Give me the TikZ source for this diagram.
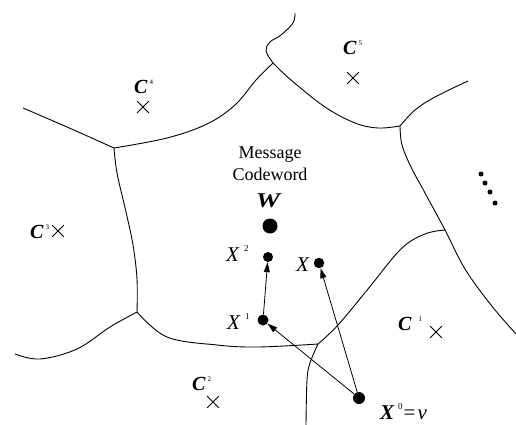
\documentclass[tikz,border=0pt]{standalone}
\usepackage{fontspec}
\setmainfont{Liberation Serif}
\usetikzlibrary{arrows.meta,shapes.misc}
\newcommand\clab[2]{\bfseries\itshape C\hspace{#2}\raisebox{9pt}{\fontsize{7}{7}\selectfont\upshape\mdseries #1}}
\newcommand\xlab[1]{\itshape X\hspace{5pt}\raisebox{10pt}{\fontsize{9}{9}\selectfont\upshape #1}}
\begin{document}
\begin{tikzpicture}[x=1pt,y=-1pt,
  boundary/.style={line width=0.9pt},
  ptdot/.style={circle,fill=black,inner sep=0pt,minimum size=#1},
  xmark/.style={cross out,draw,line width=0.8pt,minimum size=11pt,inner sep=0pt},
  arr/.style={-{Triangle[length=10pt,width=6pt]},line width=0.8pt},
  clabel/.style={anchor=base west,inner sep=0pt,font=\fontsize{20}{20}\selectfont},
  xlabel/.style={anchor=base west,inner sep=0pt,font=\fontsize{21}{21}\selectfont},
  msgtext/.style={anchor=base,inner sep=0pt,font=\fontsize{18}{18}\selectfont}]
\useasboundingbox (0,0) rectangle (516,425);
% junctions
\coordinate (J1) at (114,148);
\coordinate (J2) at (273,63);
\coordinate (J3) at (400,126);
\coordinate (J4) at (445,230);
\coordinate (J5) at (318,344);
\coordinate (J6) at (137,312);
% boundaries
\draw[boundary] plot[smooth,tension=0.6] coordinates {(23,108) (67,127) (J1)};
\draw[boundary] plot[smooth,tension=0.6] coordinates {(J1) (167,138) (207,124) (235,105) (256,80) (J2)};
\draw[boundary] plot[smooth,tension=0.6] coordinates {(295,13) (293,23) (281,35) (270,42) (266,51) (J2)};
\draw[boundary] plot[smooth,tension=0.6] coordinates {(J2) (291,80) (325,107) (355,123) (378,128) (J3)};
\draw[boundary] plot[smooth,tension=0.6] coordinates {(J3) (415,110) (435,97) (468,81)};
\draw[boundary] plot[smooth,tension=0.6] coordinates {(J3) (402,145) (411,167) (425,193) (J4) (465,269) (491,305) (516,334)};
\draw[boundary] plot[smooth,tension=0.6] coordinates {(J4) (425,234) (401,249) (368,289) (338,325) (J5)};
\draw[boundary] plot[smooth,tension=0.6] coordinates {(J5) (258,347) (217,345) (167,337) (J6)};
\draw[boundary] plot[smooth,tension=0.6] coordinates {(J5) (310,363) (307,380) (306,425)};
\draw[boundary] plot[smooth,tension=0.6] coordinates {(J6) (110,327) (77,349) (40,359) (15,354)};
\draw[boundary] plot[smooth,tension=0.6] coordinates {(J6) (137,279) (133,245) (126,212) (117,173) (J1)};
% codeword labels and crosses
\node[clabel] (c4) at (134,94) {\clab{4}{2pt}};
\node[xmark] (m4) at (143,107) {};
\node[clabel] (c5) at (343,55) {\clab{5}{2pt}};
\node[xmark] (m5) at (353,78) {};
\node[clabel] (c3) at (30,238) {\clab{3}{2pt}};
\node[xmark] (m3) at (58,231) {};
\node[clabel] (c2) at (192,390) {\clab{2}{2pt}};
\node[xmark] (m2) at (213,402) {};
\node[clabel] (c1) at (398,330) {\clab{1}{7pt}};
\node[xmark] (m1) at (436,332) {};
% message codeword
\node[msgtext] (msg1) at (270,158) {Message};
\node[msgtext] (msg2) at (270,180) {Codeword};
\node[anchor=base,inner sep=0pt,font=\fontsize{21}{21}\selectfont] (wl) at (268,207) {\scalebox{1.3}[1]{\bfseries\itshape W}};
\node[ptdot=15pt] (w) at (270,226) {};
% points
\node[ptdot=10pt] (x2) at (268,257) {};
\node[ptdot=11pt] (x1) at (263,320) {};
\node[ptdot=10.5pt] (x) at (319,263) {};
\node[ptdot=12pt] (x0) at (359,398) {};
\node[xlabel] (lx2) at (226,261) {\xlab{2}};
\node[xlabel] (lx1) at (227,329) {\xlab{1}};
\node[xlabel] (lx) at (296,271) {\itshape X};
\node[xlabel] (lx0) at (380,419) {{\bfseries\itshape X}\hspace{4pt}\raisebox{10pt}{\fontsize{9}{9}\selectfont 0}\hspace{1pt}=\hspace{2pt}{\itshape v}};
% arrows
\draw[arr] (x1) -- (x2);
\draw[arr] (x0) -- (x1);
\draw[arr] (x0) -- (x);
% ellipsis dots
\node[ptdot=5pt] (d1) at (481,174) {};
\node[ptdot=5pt] (d2) at (485,183) {};
\node[ptdot=5pt] (d3) at (490,192) {};
\node[ptdot=5pt] (d4) at (495,203) {};
\end{tikzpicture}
\end{document}
